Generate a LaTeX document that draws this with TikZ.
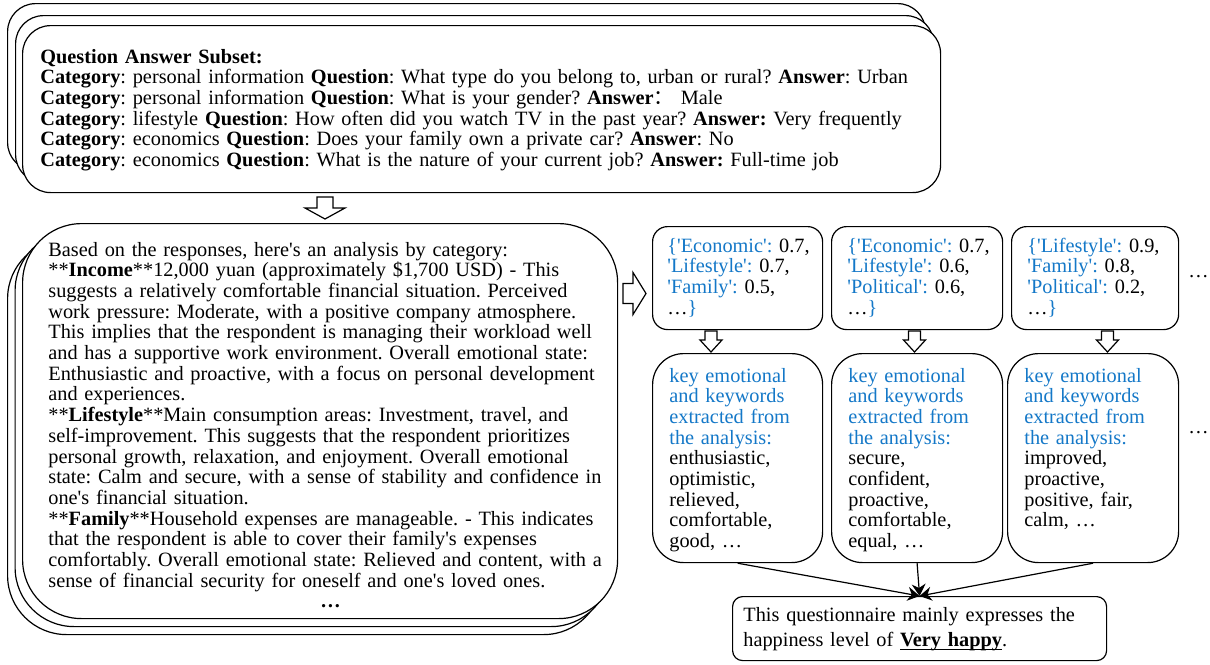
\documentclass[tikz,border=0pt]{standalone}
\usepackage{fontspec}
\setmainfont{Liberation Serif}[Ligatures=TeXOff]
\newfontfamily\cjk{Noto Sans CJK SC}
\usepackage{xcolor}
\usetikzlibrary{arrows.meta}
\definecolor{keyblue}{RGB}{20,120,200}
\newcommand{\fs}{\fontsize{10.15pt}{10.35pt}\selectfont\frenchspacing}
\newcommand{\kb}[1]{\textcolor{keyblue}{#1}}
\newcommand{\undertext}[1]{\setbox0\hbox{#1}\rlap{\rule[-1.8pt]{\wd0}{0.8pt}}\box0}
\tikzset{
  card/.style={draw, fill=white, line width=0.6pt, rounded corners=#1, anchor=north west, inner sep=0pt},
  body/.style={anchor=base west, inner sep=0pt, text width=#1, align=left, font=\fs},
  hollow/.style={draw, fill=white, line width=0.6pt, line join=miter},
  flow/.style={line width=0.6pt, -{Stealth[length=6pt, width=7pt, inset=2pt]}},
  pics/blockarrow/.style n args={4}{code={
    \draw[hollow] (-#1,0) -- (#1,0) -- (#1,#3) -- (#2,#3) -- (0,#4) -- (-#2,#3) -- (-#1,#3) -- cycle;}},
}

\begin{document}
\begin{tikzpicture}[x=0.5pt, y=-0.5pt]
  \useasboundingbox (0,0) rectangle (1210,664);

  % question answer subset (stack of three cards)
  \node[card=14pt, minimum width=459pt, minimum height=83.5pt] (qaback2) at (7,3) {};
  \node[card=14pt, minimum width=459pt, minimum height=83.5pt] (qaback1) at (15,15) {};
  \node[card=14pt, minimum width=459pt, minimum height=83.5pt] (qa) at (22,25) {};
  \node[body=460pt] (qatext) at (40,63) {%
    \textbf{Question Answer Subset:}\\
    \textbf{Category}: personal information \textbf{Question}: What type do you belong to, urban or rural? \textbf{Answer}: Urban\\
    \textbf{Category}: personal information \textbf{Question}: What is your gender? \textbf{Answer}{\cjk ：} Male\\
    \textbf{Category}: lifestyle \textbf{Question}: How often did you watch TV in the past year? \textbf{Answer:} Very frequently\\
    \textbf{Category}: economics \textbf{Question}: Does your family own a private car? \textbf{Answer}: No\\
    \textbf{Category}: economics \textbf{Question}: What is the nature of your current job? \textbf{Answer:} Full-time job};

  \pic at (325,197) {blockarrow={8}{20}{11}{22}};

  % analysis (stack of three cards)
  \node[card=29.5pt, minimum width=297.5pt, minimum height=197.5pt] (analysisback2) at (7,239) {};
  \node[card=29.5pt, minimum width=297.5pt, minimum height=197.5pt] (analysisback1) at (14.5,231) {};
  \node[card=29.5pt, minimum width=297.5pt, minimum height=197.5pt] (analysis) at (22,223) {};
  \node[body=290pt] (analysistext) at (48,256) {%
    Based on the responses, here's an analysis by category:\\{}%
    **\textbf{Income}**12,000 yuan (approximately \$1,700 USD) - This\\
    suggests a relatively comfortable financial situation. Perceived\\
    work pressure: Moderate, with a positive company atmosphere.\\
    This implies that the respondent is managing their workload well\\
    and has a supportive work environment. Overall emotional state:\\
    Enthusiastic and proactive, with a focus on personal development\\
    and experiences.\\{}%
    **\textbf{Lifestyle}**Main consumption areas: Investment, travel, and\\
    self-improvement. This suggests that the respondent prioritizes\\
    personal growth, relaxation, and enjoyment. Overall emotional\\
    state: Calm and secure, with a sense of stability and confidence in\\
    one's financial situation.\\{}%
    **\textbf{Family}**Household expenses are manageable. - This indicates\\
    that the respondent is able to cover their family's expenses\\
    comfortably. Overall emotional state: Relieved and content, with a\\
    sense of financial security for oneself and one's loved ones.\\
    \hspace*{136pt}\textbf{…}};

  \pic[rotate=90] at (623,293.5) {blockarrow={10}{21}{10}{23}};

  % category scores
  \node[card=7.5pt, minimum width=85pt, minimum height=51.5pt] (score1) at (652,226) {};
  \node[card=7.5pt, minimum width=85.5pt, minimum height=51.5pt] (score2) at (831,226) {};
  \node[card=7.5pt, minimum width=83.5pt, minimum height=51.5pt] (score3) at (1011,226) {};
  \node[body=80pt] (score1text) at (667,252) {%
    \kb{\{'Economic':} 0.7,\\ \kb{'Lifestyle':} 0.7,\\ \kb{'Family':} 0.5,\\ …\kb{\}}};
  \node[body=80pt] (score2text) at (847,252) {%
    \kb{\{'Economic':} 0.7,\\ \kb{'Lifestyle':} 0.6,\\ \kb{'Political':} 0.6,\\ …\kb{\}}};
  \node[body=80pt] (score3text) at (1027,252) {%
    \kb{\{'Lifestyle':} 0.9,\\ \kb{'Family':} 0.8,\\ \kb{'Political':} 0.2,\\ …\kb{\}}};
  \node[anchor=base west, inner sep=0pt, font=\fs] (scoremore) at (1188,277) {…};

  \pic at (711,331) {blockarrow={6}{11}{9}{21}};
  \pic at (914.5,331) {blockarrow={6}{11}{9}{21}};
  \pic at (1107.5,331) {blockarrow={6}{11}{9}{21}};

  % keywords
  \node[card=15.5pt, minimum width=85pt, minimum height=104.5pt] (kw1) at (652,353) {};
  \node[card=15.5pt, minimum width=85.5pt, minimum height=104.5pt] (kw2) at (831,353) {};
  \node[card=15.5pt, minimum width=85.5pt, minimum height=104.5pt] (kw3) at (1007,353) {};
  \node[body=80pt] (kw1text) at (669,382) {%
    \kb{key emotional\\ and keywords\\ extracted from\\ the analysis:}\\
    enthusiastic,\\ optimistic,\\ relieved,\\ comfortable,\\ good, …};
  \node[body=80pt] (kw2text) at (848,382) {%
    \kb{key emotional\\ and keywords\\ extracted from\\ the analysis:}\\
    secure,\\ confident,\\ proactive,\\ comfortable,\\ equal, …};
  \node[body=80pt] (kw3text) at (1024,382) {%
    \kb{key emotional\\ and keywords\\ extracted from\\ the analysis:}\\
    improved,\\ proactive,\\ positive, fair,\\ calm, …};
  \node[anchor=base west, inner sep=0pt, font=\fs] (kwmore) at (1188,433) {…};

  % verdict
  \node[card=5pt, minimum width=187pt, minimum height=32pt] (verdict) at (732,596) {};
  \node[body=185pt, font=\fontsize{10.15pt}{12.8pt}\selectfont\frenchspacing] (verdicttext) at (743,621) {%
    This questionnaire mainly expresses the\\
    happiness level of \undertext{\textbf{Very happy}}.};

  \foreach \kw in {kw1, kw2, kw3}
    \draw[flow] (\kw.south) -- (verdict.north);
\end{tikzpicture}
\end{document}
